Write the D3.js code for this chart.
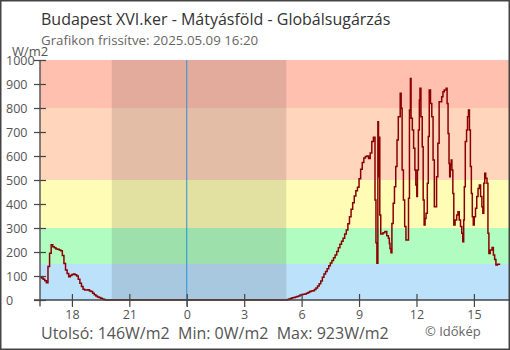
<!DOCTYPE html>
<html><head><meta charset="utf-8">
<script src="https://cdn.jsdelivr.net/npm/d3@7"></script>
<style>
html,body{margin:0;padding:0;background:#fff;}
svg{display:block;font-family:"Open Sans","Noto Sans",sans-serif;}
</style></head>
<body>
<svg id="c" width="510" height="350"></svg>
<script>
// ---- data ----
const titleText = "Budapest XVI.ker - Mátyásföld - Globálsugárzás";
const subtitleText = "Grafikon frissítve: 2025.05.09 16:20";
const unitLabel = "W/m2";
const footerText = "Utolsó: 146W/m2  Min: 0W/m2  Max: 923W/m2";
const creditText = "© Időkép";
const startDay = "2025-05-08";
const domainStart = "2025-05-08T16:20";
const domainEnd = "2025-05-09T16:50";
const sunset = "2025-05-08T20:05";
const sunrise = "2025-05-09T05:12";
const midnight = "2025-05-09T00:00";
const yTicks = [0,100,200,300,400,500,600,700,800,900,1000];
const bandLimits = [0,150,300,500,800,1000];
const bandColors = ["#bce1fa","#b1fcc0","#fffdb5","#ffd5bb","#ffc0b0"];
const times = ["16:20","16:25","16:30","16:35","16:40","16:45","16:50","16:55","17:00","17:05","17:10","17:15","17:20","17:25","17:30","17:35","17:40","17:45","17:50","17:55","18:00","18:05","18:10","18:15","18:20","18:25","18:30","18:35","18:40","18:45","18:50","18:55","19:00","19:05","19:10","19:15","19:20","19:25","19:30","19:35","19:40","19:45","21:00","23:00","01:00","03:00","05:00","05:10","05:15","05:20","05:25","05:30","05:35","05:40","05:45","05:50","05:55","06:00","06:05","06:10","06:15","06:20","06:25","06:30","06:35","06:40","06:45","06:50","06:55","07:00","07:05","07:10","07:15","07:20","07:25","07:30","07:35","07:40","07:45","07:50","07:55","08:00","08:05","08:10","08:15","08:20","08:25","08:30","08:35","08:40","08:45","08:50","08:55","09:00","09:05","09:10","09:15","09:20","09:25","09:30","09:35","09:40","09:45","09:50","09:53","09:56","09:59","10:01","10:03","10:05","10:08","10:15","10:21","10:27","10:32","10:35","10:37","10:40","10:43","10:47","10:51","10:55","10:59","11:03","11:06","11:09","11:12","11:15","11:19","11:23","11:27","11:35","11:38","11:41","11:43","11:47","11:51","11:55","11:58","12:01","12:03","12:06","12:09","12:11","12:14","12:18","12:21","12:24","12:27","12:30","12:34","12:37","12:40","12:44","12:48","12:52","12:56","13:03","13:07","13:11","13:19","13:23","13:27","13:33","13:36","13:39","13:42","13:44","13:46","13:49","13:51","13:54","13:57","14:01","14:06","14:10","14:14","14:18","14:22","14:25","14:28","14:30","14:33","14:37","14:40","14:43","14:46","14:49","14:52","14:55","14:58","15:01","15:05","15:09","15:13","15:17","15:21","15:25","15:28","15:31","15:34","15:37","15:41","15:44","15:47","15:51","15:57","16:01","16:05","16:09","16:14","16:20"];
const values = [97,92,86,80,72,140,195,230,222,218,213,211,208,205,185,152,125,110,97,102,106,108,105,100,86,70,56,45,42,42,43,38,35,28,22,17,13,10,7,4,2,0,0,0,0,0,0,0,2,4,6,9,10,13,15,17,21,23,24,25,28,31,35,37,39,44,50,58,68,79,95,108,119,130,143,154,165,176,188,202,218,232,245,257,275,292,318,347,378,405,433,455,470,505,545,573,592,598,600,590,612,660,678,417,239,153,743,514,678,354,275,280,285,268,257,235,215,197,319,403,472,556,667,764,764,861,799,542,417,306,250,424,792,923,757,708,632,542,479,431,542,708,833,882,764,639,417,313,340,361,486,681,875,819,764,583,389,514,653,826,847,868,875,882,819,694,569,514,563,583,542,444,313,333,354,368,333,306,278,243,333,472,660,708,764,792,708,556,444,347,313,347,382,431,465,479,431,389,361,486,528,507,486,278,194,208,219,188,169,146,149,146];

// ---- build series ----
const parseFull = d3.timeParse("%Y-%m-%dT%H:%M");
let day = new Date(startDay + "T00:00");
let prevMin = -1;
const data = times.map((t, i) => {
  const [h, m] = t.split(":").map(Number);
  const mins = h * 60 + m;
  if (prevMin >= 0 && mins < prevMin) day = d3.timeDay.offset(day, 1);
  prevMin = mins;
  const d = new Date(day); d.setHours(h, m, 0, 0);
  return {t: d, v: values[i]};
});

const L = 40, R = 509, T = 60, B = 300;
const svg = d3.select("#c");
const x = d3.scaleTime().domain([parseFull(domainStart), parseFull(domainEnd)]).range([L, R]);
const y = d3.scaleLinear().domain([0, 1000]).range([B, T]);
const gray = "#555";

// bands
svg.append("g").selectAll("rect").data(bandColors).join("rect")
  .attr("x", L).attr("width", R - L)
  .attr("y", (c, i) => y(bandLimits[i + 1]))
  .attr("height", (c, i) => y(bandLimits[i]) - y(bandLimits[i + 1]))
  .attr("fill", c => c);

// night shading
svg.append("rect")
  .attr("x", x(parseFull(sunset))).attr("width", x(parseFull(sunrise)) - x(parseFull(sunset)))
  .attr("y", T).attr("height", B - T)
  .attr("fill", "#000").attr("fill-opacity", 0.11);

// midnight line
svg.append("line")
  .attr("x1", x(parseFull(midnight))).attr("x2", x(parseFull(midnight)))
  .attr("y1", T).attr("y2", B + 6.5)
  .attr("stroke", "#2a90e0").attr("stroke-width", 1);

// data line
svg.append("path").datum(data)
  .attr("fill", "none").attr("stroke", "#8b0000").attr("stroke-width", 1.5)
  .attr("d", d3.line().x(d => x(d.t)).y(d => y(d.v)).curve(d3.curveStepAfter));

// y axis
const ya = svg.append("g").attr("transform", `translate(${L},0)`)
  .call(d3.axisLeft(y).tickValues(yTicks).tickSize(6).tickFormat(d3.format("d")));
ya.select(".domain").remove();
ya.selectAll(".tick line").attr("x1", -6).attr("x2", 6).attr("stroke", "#444").attr("stroke-width", 1.2);
ya.selectAll(".tick text").attr("x", -34).attr("text-anchor", "start").attr("dy", "0.35em")
  .attr("fill", gray).style("font-size", "12.5px").style("font-family", "Open Sans");

// x axis
const xa = svg.append("g").attr("transform", `translate(0,${B})`)
  .call(d3.axisBottom(x).ticks(d3.timeHour.every(3)).tickSize(6).tickFormat(d3.timeFormat("%-H")));
xa.select(".domain").remove();
xa.selectAll(".tick line").attr("y1", -6).attr("y2", 7).attr("stroke", "#444").attr("stroke-width", 1.2);
xa.selectAll(".tick text").attr("y", 18.5).attr("dy", 0)
  .attr("fill", gray).style("font-size", "12.5px").style("font-family", "Open Sans");

// axis lines
svg.append("line").attr("x1", L).attr("x2", L).attr("y1", T).attr("y2", B + 6.5)
  .attr("stroke", "#444").attr("stroke-width", 1.3);
svg.append("line").attr("x1", L - 6).attr("x2", R).attr("y1", B).attr("y2", B)
  .attr("stroke", "#444").attr("stroke-width", 1.3);

// texts
svg.append("text").attr("x", 41).attr("y", 25).text(titleText)
  .attr("fill", "#333").style("font-size", "16px");
svg.append("text").attr("x", 41).attr("y", 45).text(subtitleText)
  .attr("fill", "#666").style("font-size", "13.3px");
svg.append("text").attr("x", 12).attr("y", 55.5).text(unitLabel)
  .attr("fill", gray).style("font-size", "13px");
svg.append("text").attr("x", 41).attr("y", 339).text(footerText)
  .attr("fill", gray).style("font-size", "16px").attr("xml:space", "preserve").style("white-space", "pre");
svg.append("text").attr("x", 425).attr("y", 336).text(creditText)
  .attr("fill", "#666").style("font-size", "13px");

// border
svg.append("rect").attr("x", 0.75).attr("y", 0.75).attr("width", 508.5).attr("height", 348.5)
  .attr("fill", "none").attr("stroke", "#444").attr("stroke-width", 1.5);
</script>
</body></html>
